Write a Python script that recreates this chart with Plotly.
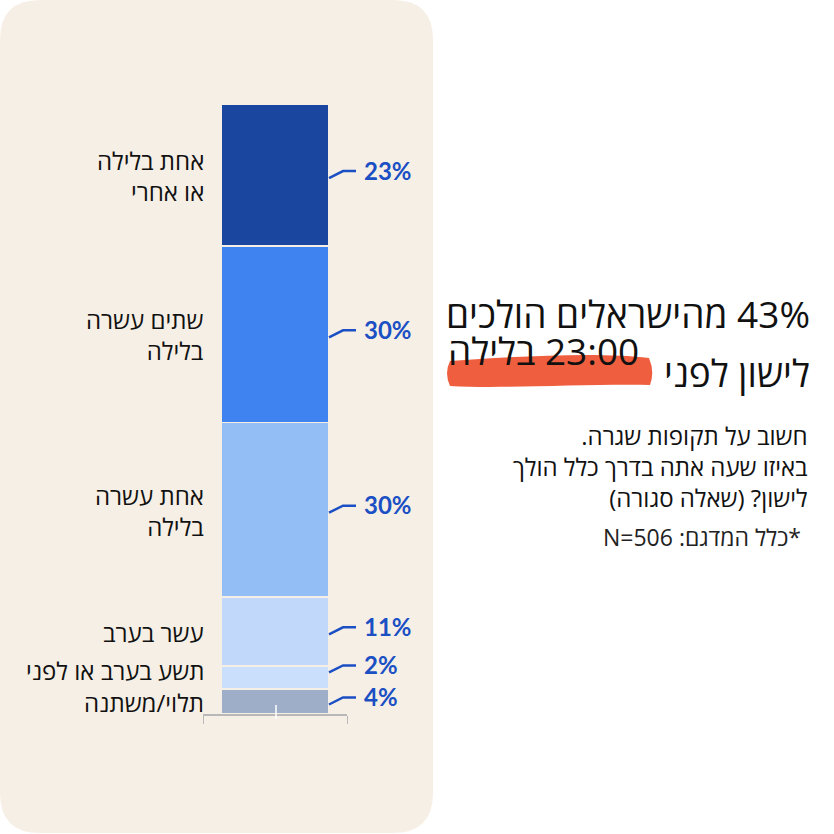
import plotly.graph_objects as go

# Data (bottom to top of the stacked bar); heights as drawn, labels as printed
categories = ["תלוי/משתנה", "תשע בערב או לפני", "עשר בערב",
              "אחת עשרה<br>בלילה", "שתים עשרה<br>בלילה", "אחת בלילה<br>או אחרי"]
values = [4.1, 3.8, 11.3, 28.6, 28.9, 23.3]
value_labels = ["4%", "2%", "11%", "30%", "30%", "23%"]
colors = ["#9eaec9", "#cadffc", "#c2d8fa", "#93bdf5", "#3f83f1", "#1b469f"]

title_line1 = "43% מהישראלים הולכים"
title_line2 = "לישון לפני"
title_highlight = "23:00 בלילה"
question_lines = ["חשוב על תקופות שגרה.", "באיזו שעה אתה בדרך כלל הולך", "לישון? (שאלה סגורה)"]
footnote = "*כלל המדגם: N=506"

W = H = 834
PANEL = "#f6efe5"
BLUE = "#1b4fc4"
FONT = "Open Sans, Noto Sans, DejaVu Sans, sans-serif"


def rtl(s):
    # force right-to-left embedding so numbers / punctuation sit where they should
    return "<br>".join("\u202b" + part + "\u202c" for part in s.split("<br>"))


def px(x):
    return x / W


def py(y):
    return 1 - y / H


fig = go.Figure()

for cat, val, col in zip(categories, values, colors):
    fig.add_trace(go.Bar(
        x=["q"], y=[val], name=cat,
        marker=dict(color=col, line=dict(color=PANEL, width=1.8)),
        hoverinfo="skip",
    ))

shapes = []
annotations = []

# rounded beige panel behind the chart
r = 40
x0, y0, x1, y1 = 0, 0, 433, 833
panel_path = (f"M {px(x0)},{py(y0 + r)} Q {px(x0)},{py(y0)} {px(x0 + r)},{py(y0)} "
              f"L {px(x1 - r)},{py(y0)} Q {px(x1)},{py(y0)} {px(x1)},{py(y0 + r)} "
              f"L {px(x1)},{py(y1 - r)} Q {px(x1)},{py(y1)} {px(x1 - r)},{py(y1)} "
              f"L {px(x0 + r)},{py(y1)} Q {px(x0)},{py(y1)} {px(x0)},{py(y1 - r)} Z")
shapes.append(dict(type="path", xref="paper", yref="paper", path=panel_path,
                   fillcolor=PANEL, line=dict(width=0), layer="below"))

# small white tick in the middle of the axis
shapes.append(dict(type="line", xref="paper", yref="paper",
                   x0=px(276), x1=px(276), y0=py(705), y1=py(719),
                   line=dict(color="white", width=1.5), layer="above"))

# labels and connectors
cum = 0
for cat, val, lab in zip(categories, values, value_labels):
    mid = cum + val / 2
    cum += val
    shift = 8 if lab == "2%" else 0
    annotations.append(dict(
        x=px(206), y=mid, xref="paper", yref="y", xanchor="right", yanchor="middle",
        text=rtl(cat), showarrow=False, align="right", yshift=shift - 1,
        font=dict(family=FONT, size=24, color="#111111"),
    ))
    annotations.append(dict(
        x=px(362), y=mid, xref="paper", yref="y", xanchor="left", yanchor="middle",
        text=f"<b>{lab}</b>", showarrow=False, yshift=shift + 5,
        font=dict(family="Lato, Open Sans, sans-serif", size=24, color=BLUE),
    ))
    shapes.append(dict(
        type="path", xref="paper", yref="y", xsizemode="pixel", ysizemode="pixel",
        xanchor=px(276), yanchor=mid,
        path=f"M 53,{shift - 3} L 67,{shift + 4} L 80,{shift + 4}",
        line=dict(color=BLUE, width=2.5),
    ))

# orange brush highlight
hl = (f"M {px(450)},{py(361)} C {px(520)},{py(356)} {px(600)},{py(352)} {px(649)},{py(358)} "
      f"Q {px(655)},{py(372)} {px(650)},{py(385)} "
      f"C {px(580)},{py(384)} {px(500)},{py(389)} {px(450)},{py(386)} "
      f"Q {px(444)},{py(373)} {px(450)},{py(361)} Z")
shapes.append(dict(type="path", xref="paper", yref="paper", path=hl,
                   fillcolor="#ef5f3f", line=dict(width=0), layer="above"))

side = [
    dict(x=px(812), y=py(313), text=rtl(title_line1),
         font=dict(family=FONT, size=37, color="#111111")),
    dict(x=px(812), y=py(372), text=rtl(title_line2),
         font=dict(family=FONT, size=37, color="#111111")),
    dict(x=px(641), y=py(350), text=rtl(title_highlight),
         font=dict(family=FONT, size=37, color="#111111")),
    dict(x=px(810), y=py(467), text=rtl("<br>".join(question_lines)), align="right",
         font=dict(family=FONT, size=24, color="#111111")),
    dict(x=px(803), y=py(537), text=rtl(footnote),
         font=dict(family=FONT, size=23, color="#222222")),
]
for a in side:
    a.update(xref="paper", yref="paper", showarrow=False, xanchor="right", yanchor="middle")
annotations += side

fig.update_layout(
    width=W, height=H,
    margin=dict(l=0, r=0, t=0, b=0),
    paper_bgcolor="white", plot_bgcolor="rgba(0,0,0,0)",
    barmode="stack", bargap=0.25,
    showlegend=False,
    shapes=shapes, annotations=annotations,
    xaxis=dict(domain=[px(203), px(347)], type="category", range=[-0.5, 0.5],
               tickson="boundaries", ticks="outside", ticklen=8, tickcolor="#b8b8b8",
               showline=True, linecolor="#b8b8b8", linewidth=1.5,
               showticklabels=False, showgrid=False, zeroline=False, fixedrange=True),
    yaxis=dict(domain=[py(714), py(104)], range=[0, 100], visible=False, fixedrange=True),
)

fig.write_html("out.html", config={"displayModeBar": False},
               post_script="document.body.style.margin='0';")
